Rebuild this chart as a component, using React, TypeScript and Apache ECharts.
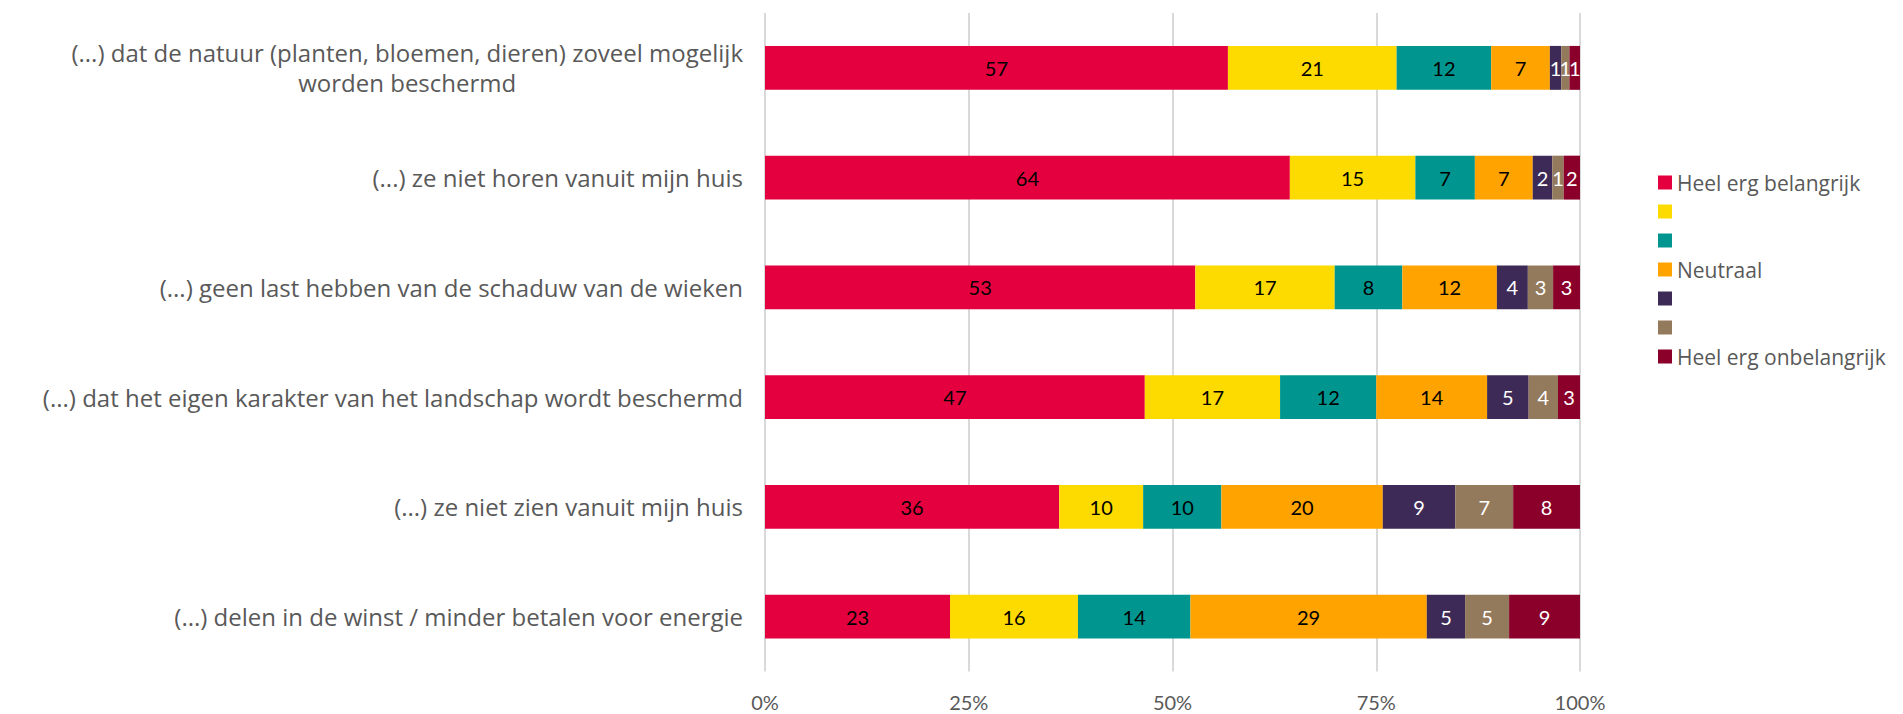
import React, { useEffect, useRef } from "react";
import * as echarts from "echarts";

const CATEGORIES = [
  "(...) dat de natuur (planten, bloemen, dieren) zoveel mogelijk\nworden beschermd",
  "(...) ze niet horen vanuit mijn huis",
  "(...) geen last hebben van de schaduw van de wieken",
  "(...) dat het eigen karakter van het landschap wordt beschermd",
  "(...) ze niet zien vanuit mijn huis",
  "(...) delen in de winst / minder betalen voor energie",
];

const SERIES_NAMES = ["Heel erg belangrijk", "2", "3", "Neutraal", "5", "6", "Heel erg onbelangrijk"];
const LEGEND_LABELS = ["Heel erg belangrijk", " ", " ", "Neutraal", " ", " ", "Heel erg onbelangrijk"];
const COLORS = ["#E4003F", "#FDDA00", "#00968F", "#FFA300", "#3E2A56", "#947A5D", "#8A002B"];
const LABEL_COLORS = ["#000000", "#000000", "#000000", "#000000", "#FFFFFF", "#FFFFFF", "#FFFFFF"];

const S1 = [56.8, 64.4, 52.8, 46.6, 36.1, 22.7];
const S2 = [20.7, 15.4, 17.1, 16.6, 10.3, 15.7];
const S3 = [11.6, 7.3, 8.3, 11.8, 9.6, 13.8];
const S4 = [7.2, 7.1, 11.6, 13.6, 19.8, 29.0];
const S5 = [1.4, 2.4, 3.8, 5.1, 8.9, 4.7];
const S6 = [1.0, 1.4, 3.1, 3.6, 7.1, 5.4];
const S7 = [1.3, 2.0, 3.3, 2.7, 8.2, 8.7];
const VALUES = [S1, S2, S3, S4, S5, S6, S7];

const X_TICKS = ["0%", "25%", "50%", "75%", "100%"];

export default function App() {
  const ref = useRef<HTMLDivElement>(null);
  useEffect(() => {
    document.body.style.margin = "0";
    if (!ref.current) return;
    const chart = echarts.init(ref.current, undefined, { renderer: "svg" });
    chart.setOption({
      animation: false,
      grid: { left: 765, right: 323, top: 13, bottom: 42.5, containLabel: false },
      legend: {
        orient: "vertical",
        left: 1653,
        top: 167,
        itemWidth: 14,
        itemHeight: 14,
        itemGap: 8,
        icon: "rect",
        data: SERIES_NAMES,
        formatter: (name: string) => LEGEND_LABELS[SERIES_NAMES.indexOf(name)],
        textStyle: { color: "#595959", fontSize: 21, lineHeight: 21, fontFamily: "Open Sans" },
      },
      xAxis: {
        type: "value",
        min: 0,
        max: 100,
        interval: 25,
        axisLine: { show: false },
        axisTick: { show: false },
        splitLine: { show: true, lineStyle: { color: "#D9D9D9", width: 2 } },
        axisLabel: {
          margin: 20,
          color: "#595959",
          fontSize: 20,
          fontFamily: "Lato",
          formatter: (v: number) => X_TICKS[Math.round(v / 25)],
        },
      },
      yAxis: {
        type: "category",
        inverse: true,
        data: CATEGORIES,
        axisLine: { show: false },
        axisTick: { show: false },
        axisLabel: {
          margin: 22,
          color: "#595959",
          fontSize: 24,
          fontFamily: "Open Sans",
          lineHeight: 30,
          formatter: (v: string) => v.split("\n").map((l) => "{c|" + l + "}").join("\n"),
          rich: {
            c: { align: "center", color: "#595959", fontSize: 24, fontFamily: "Open Sans", lineHeight: 30 },
          },
        },
      },
      series: VALUES.map((vals, i) => ({
        name: SERIES_NAMES[i],
        type: "bar",
        stack: "total",
        barCategoryGap: "60%",
        itemStyle: { color: COLORS[i] },
        label: {
          show: true,
          position: "inside",
          color: LABEL_COLORS[i],
          fontSize: 20,
          fontFamily: "Lato",
          formatter: (p: any) => String(Math.round(p.value)),
        },
        data: vals,
      })),
    });
    return () => chart.dispose();
  }, []);
  return <div ref={ref} style={{ width: 1903, height: 714 }} />;
}
